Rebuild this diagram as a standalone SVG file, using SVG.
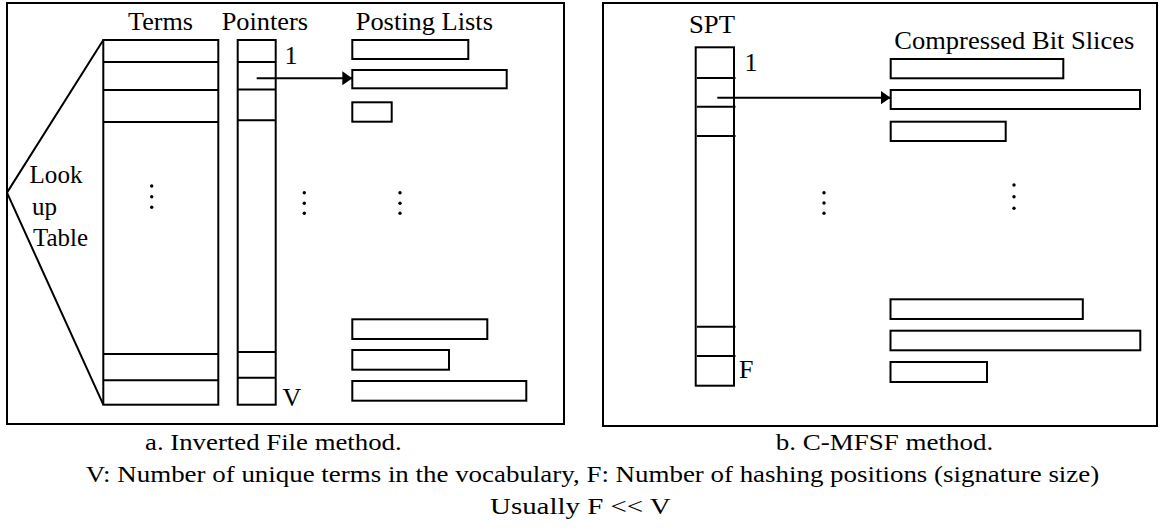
<svg xmlns="http://www.w3.org/2000/svg" width="1168" height="531" viewBox="0 0 1168 531">
<style>
  .box { fill: #fff; stroke: #000; stroke-width: 2; }
  .ln { fill: none; stroke: #000; stroke-width: 2; }
  .lbl { font-family: 'Liberation Serif', serif; font-size: 26px; fill: #000; }
  .side { font-family: 'Liberation Serif', serif; font-size: 25px; fill: #000; }
  .cap { font-family: 'Liberation Serif', serif; font-size: 24px; fill: #000; }
  .dot { fill: #000; }
</style>
<defs>
  <marker id="arrow" markerUnits="userSpaceOnUse" markerWidth="12" markerHeight="14" refX="10" refY="7" orient="auto">
    <path d="M0,0 L10,7 L0,14 Z" fill="#000"/>
  </marker>
</defs>
<rect width="1168" height="531" fill="#fff"/>

<g id="frame-a">
  <rect class="box" x="7" y="3" width="557" height="421"/>
</g>
<g id="frame-b">
  <rect class="box" x="603" y="3" width="554" height="423"/>
</g>

<g id="terms">
  <text class="lbl" x="128" y="29.5" textLength="65" lengthAdjust="spacingAndGlyphs">Terms</text>
  <rect class="box" x="103.3" y="40" width="115" height="364.7"/>
  <path class="ln" d="M103.3,62 H218.3 M103.3,90 H218.3 M103.3,122 H218.3 M103.3,354 H218.3 M103.3,380.3 H218.3"/>
  <circle class="dot" cx="151.7" cy="186" r="1.7"/>
  <circle class="dot" cx="151.7" cy="196.7" r="1.7"/>
  <circle class="dot" cx="151.7" cy="207.3" r="1.7"/>
</g>
<g id="lookup-table">
  <polyline class="ln" points="103.3,40 7,192.7 103.3,404.7"/>
  <text class="side" x="29.5" y="182.7" textLength="53" lengthAdjust="spacingAndGlyphs">Look</text>
  <text class="side" x="32" y="214.5">up</text>
  <text class="side" x="33" y="246" textLength="55" lengthAdjust="spacingAndGlyphs">Table</text>
</g>
<g id="pointers">
  <text class="lbl" x="221.7" y="29.5" textLength="86.3" lengthAdjust="spacingAndGlyphs">Pointers</text>
  <rect class="box" x="237.7" y="40" width="38" height="364.7"/>
  <path class="ln" d="M237.7,62 H275.7 M237.7,89.5 H275.7 M237.7,120.3 H275.7 M237.7,352 H275.7 M237.7,377.7 H275.7"/>
  <text class="lbl" x="284.5" y="64.3">1</text>
  <text class="lbl" x="282.5" y="406">V</text>
  <circle class="dot" cx="304.3" cy="192.7" r="1.7"/>
  <circle class="dot" cx="304.3" cy="203.3" r="1.7"/>
  <circle class="dot" cx="304.3" cy="213.3" r="1.7"/>
</g>
<g id="posting-lists">
  <text class="lbl" x="355.7" y="29.5" textLength="137.3" lengthAdjust="spacingAndGlyphs">Posting Lists</text>
  <rect class="box" x="352.3" y="40" width="116" height="19"/>
  <rect class="box" x="352.3" y="70" width="154.4" height="18.3"/>
  <rect class="box" x="352.3" y="102.3" width="39.4" height="19.4"/>
  <rect class="box" x="352.3" y="319.3" width="135" height="19.7"/>
  <rect class="box" x="352.3" y="350" width="96.7" height="19.7"/>
  <rect class="box" x="352.3" y="381" width="174" height="19.7"/>
  <circle class="dot" cx="400" cy="192.7" r="1.7"/>
  <circle class="dot" cx="400" cy="203.3" r="1.7"/>
  <circle class="dot" cx="400" cy="213.3" r="1.7"/>
</g>

<g id="spt">
  <text class="lbl" x="689" y="33.3" textLength="46" lengthAdjust="spacingAndGlyphs">SPT</text>
  <rect class="box" x="695.7" y="47.3" width="38.3" height="338.4"/>
  <path class="ln" d="M697,78 H735.5 M697,106.7 H735.5 M697,136 H735.5 M697,326.7 H735.5 M697,356 H735.5"/>
  <text class="lbl" x="744.5" y="71">1</text>
  <text class="lbl" x="739" y="378.3">F</text>
  <circle class="dot" cx="824" cy="192.7" r="1.7"/>
  <circle class="dot" cx="824" cy="203" r="1.7"/>
  <circle class="dot" cx="824" cy="213.3" r="1.7"/>
</g>
<g id="bit-slices">
  <text class="lbl" x="894.3" y="49.3" textLength="240" lengthAdjust="spacingAndGlyphs">Compressed Bit Slices</text>
  <rect class="box" x="890.7" y="59" width="172.6" height="19.3"/>
  <rect class="box" x="890.7" y="90" width="249.3" height="19"/>
  <rect class="box" x="890.7" y="121.7" width="115" height="19.3"/>
  <rect class="box" x="890.5" y="299.3" width="192.3" height="19.7"/>
  <rect class="box" x="890.5" y="330.7" width="249.8" height="19.6"/>
  <rect class="box" x="890.5" y="362" width="96.5" height="20"/>
  <circle class="dot" cx="1014" cy="185" r="1.7"/>
  <circle class="dot" cx="1014" cy="196.7" r="1.7"/>
  <circle class="dot" cx="1014" cy="208.3" r="1.7"/>
</g>

<g id="connectors">
  <line class="ln" x1="256.7" y1="78.3" x2="352.3" y2="78.3" marker-end="url(#arrow)"/>
  <line class="ln" x1="717.3" y1="97.7" x2="890.5" y2="97.7" marker-end="url(#arrow)"/>
</g>

<g id="captions">
  <text class="cap" x="145" y="450" textLength="256.7" lengthAdjust="spacingAndGlyphs">a. Inverted File method.</text>
  <text class="cap" x="775.7" y="450" textLength="217.6" lengthAdjust="spacingAndGlyphs">b. C-MFSF method.</text>
  <text class="cap" x="85.7" y="481.5" textLength="1013.5" lengthAdjust="spacingAndGlyphs">V: Number of unique terms in the vocabulary, F: Number of hashing positions (signature size)</text>
  <text class="cap" x="490" y="514" textLength="180.7" lengthAdjust="spacingAndGlyphs">Usually F &lt;&lt; V</text>
</g>
</svg>
